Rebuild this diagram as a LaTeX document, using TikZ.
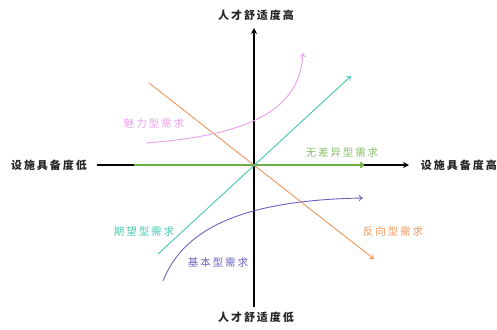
\documentclass[tikz,border=0pt]{standalone}
\usepackage{fontspec}
\newfontfamily\cjk[LetterSpace=18]{Noto Sans CJK SC}
\usetikzlibrary{arrows.meta}
\definecolor{cpink}{RGB}{232,160,232}
\definecolor{corange}{RGB}{240,150,90}
\definecolor{cteal}{RGB}{70,200,180}
\definecolor{cgreen}{RGB}{110,175,70}
\definecolor{cblue}{RGB}{105,100,190}
\tikzset{
  axis/.style={line width=1.6pt, black, -{Stealth[length=6pt,width=6pt]}},
  curve/.style={line width=0.9pt, -{To[length=4pt,width=6pt]}},
  axlabel/.style={font=\cjk\fontsize{11}{11}\selectfont\bfseries, text=black!85},
  clabel/.style={font=\cjk\fontsize{10.5}{11}\selectfont}
}
\begin{document}
\begin{tikzpicture}[x=1pt,y=-1pt]
\useasboundingbox (0,0) rectangle (497,329);
\coordinate (o) at (254,165);
\coordinate (ybot) at (254,307);
\coordinate (ytop) at (254,28);
\coordinate (xl) at (97,165);
\coordinate (xr) at (409,165);
\draw[axis] (ybot) -- (ytop);
\draw[axis] (xl) -- (xr);
\node[axlabel] (top) at (256,15) {人才舒适度高};
\node[axlabel] (bot) at (256,317) {人才舒适度低};
\node[axlabel] (left) at (49,165) {设施具备度低};
\node[axlabel, anchor=east, inner sep=0pt] (right) at (497,165) {设施具备度高};
% green
\coordinate (g1) at (134,165);
\coordinate (g2) at (364,165);
\draw[line width=1.6pt, cgreen, -{To[length=4pt,width=6pt]}] (g1) -- (g2);
% orange
\coordinate (o1) at (149,83);
\coordinate (o2) at (374,259);
\draw[curve, corange] (o1) -- (o2);
% teal
\coordinate (t1) at (158,254);
\coordinate (t2) at (351,76);
\draw[curve, cteal] (t1) -- (t2);
% pink
\coordinate (p1) at (146,143);
\coordinate (p2) at (303,53);
\draw[curve, cpink] (p1) .. controls (250,135) and (300,110) .. (p2);
% blue
\coordinate (b1) at (163,281);
\coordinate (b2) at (363,198);
\draw[curve, cblue] (b1) .. controls (185,225) and (250,200) .. (b2);
% labels
\node[clabel, text=cpink] (lp) at (154,124) {魅力型需求};
\node[clabel, text=cgreen!80] (lg) at (342,153) {无差异型需求};
\node[clabel, text=cteal] (lt) at (144,232) {期望型需求};
\node[clabel, text=cblue] (lb) at (218,263) {基本型需求};
\node[clabel, text=corange] (lo) at (393,232) {反向型需求};
\end{tikzpicture}
\end{document}
